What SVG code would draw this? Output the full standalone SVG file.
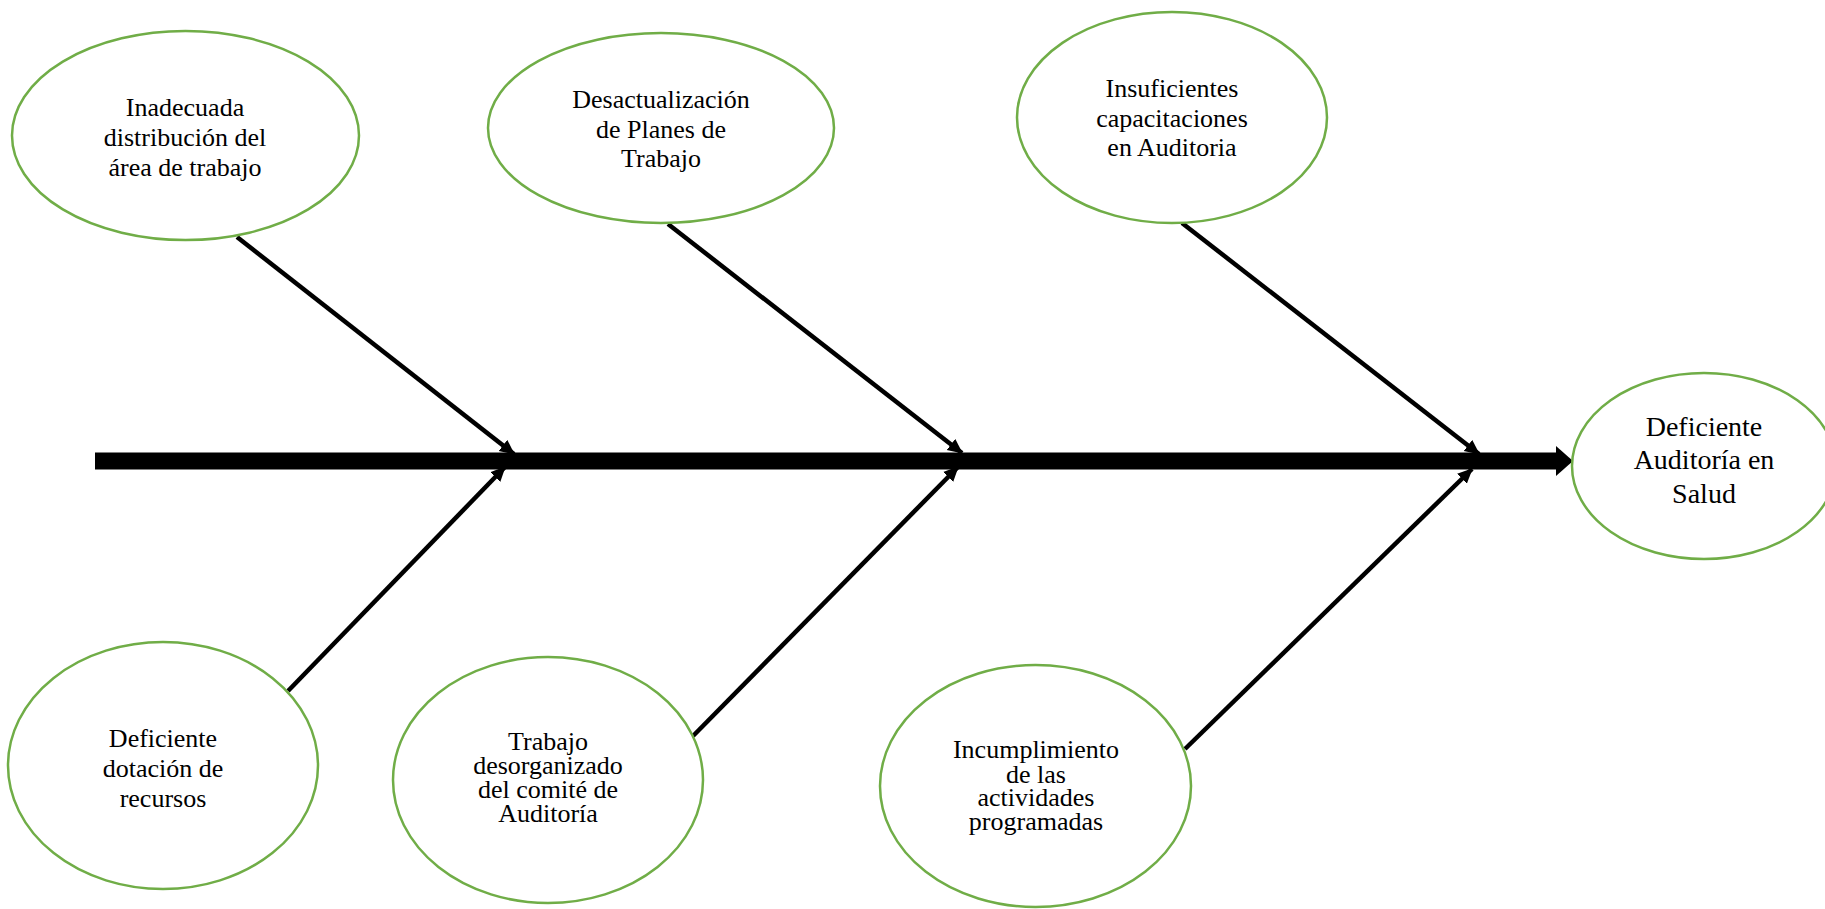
<svg xmlns="http://www.w3.org/2000/svg" width="1825" height="909" viewBox="0 0 1825 909">
  <style>
    .cause ellipse, .effect ellipse { fill: #ffffff; stroke: #70AD47; stroke-width: 2.5; }
    text { font-family: "Liberation Serif", "Times New Roman", serif; fill: #000000; text-anchor: middle; }
    .cause text { font-size: 26px; }
    .effect text { font-size: 28px; }
    .bone { stroke: #000000; stroke-width: 4.5; fill: none; marker-end: url(#tip); }
    .spine { stroke: #000000; stroke-width: 17; fill: none; }
  </style>
  <defs>
    <marker id="tip" markerUnits="userSpaceOnUse" markerWidth="16" markerHeight="16" viewBox="0 0 16 16" refX="14" refY="8" orient="auto">
      <path d="M0,1 L15,8 L0,15 Z" fill="#000000"/>
    </marker>
  </defs>

  <!-- connectors: spine and cause bones -->
  <g id="connectors">
    <line class="spine" x1="95" y1="461" x2="1558" y2="461"/>
    <path d="M1556,446 L1573,461 L1556,476 Z" fill="#000000"/>
    <line class="bone" x1="237" y1="237" x2="514" y2="454"/>
    <line class="bone" x1="668" y1="224" x2="962" y2="453"/>
    <line class="bone" x1="1182" y1="223" x2="1479" y2="454"/>
    <line class="bone" x1="288" y1="691" x2="505" y2="467"/>
    <line class="bone" x1="693" y1="736" x2="958" y2="467"/>
    <line class="bone" x1="1185" y1="749" x2="1472" y2="469"/>
  </g>

  <!-- upper causes -->
  <g id="node-distribucion" class="cause">
    <ellipse cx="185.5" cy="135.5" rx="173.5" ry="104.5"/>
    <text x="185" y="116">Inadecuada</text>
    <text x="185" y="146">distribución del</text>
    <text x="185" y="176">área de trabajo</text>
  </g>
  <g id="node-planes" class="cause">
    <ellipse cx="661" cy="128" rx="173" ry="95"/>
    <text x="661" y="108">Desactualización</text>
    <text x="661" y="138">de Planes de</text>
    <text x="661" y="167">Trabajo</text>
  </g>
  <g id="node-capacitaciones" class="cause">
    <ellipse cx="1172" cy="117.5" rx="155" ry="105.5"/>
    <text x="1172" y="97">Insuficientes</text>
    <text x="1172" y="127">capacitaciones</text>
    <text x="1172" y="156">en Auditoria</text>
  </g>

  <!-- lower causes -->
  <g id="node-recursos" class="cause">
    <ellipse cx="163" cy="765.5" rx="155" ry="123.5"/>
    <text x="163" y="747">Deficiente</text>
    <text x="163" y="777">dotación de</text>
    <text x="163" y="807">recursos</text>
  </g>
  <g id="node-comite" class="cause">
    <ellipse cx="548" cy="780" rx="155" ry="123"/>
    <text x="548" y="750">Trabajo</text>
    <text x="548" y="774">desorganizado</text>
    <text x="548" y="798">del comité de</text>
    <text x="548" y="822">Auditoría</text>
  </g>
  <g id="node-actividades" class="cause">
    <ellipse cx="1035.5" cy="786" rx="155.5" ry="121"/>
    <text x="1036" y="758">Incumplimiento</text>
    <text x="1036" y="783">de las</text>
    <text x="1036" y="806">actividades</text>
    <text x="1036" y="830">programadas</text>
  </g>

  <!-- effect -->
  <g id="node-efecto" class="effect">
    <ellipse cx="1704" cy="466" rx="132" ry="93"/>
    <text x="1704" y="436">Deficiente</text>
    <text x="1704" y="469">Auditoría en</text>
    <text x="1704" y="503">Salud</text>
  </g>
</svg>
